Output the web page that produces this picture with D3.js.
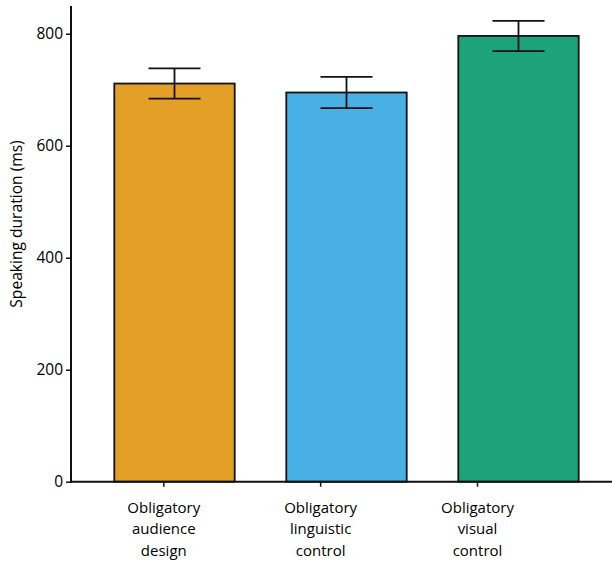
<!DOCTYPE html>
<html>
<head>
<meta charset="utf-8">
<script src="https://cdn.jsdelivr.net/npm/d3@7"></script>
<style>
  html, body { margin: 0; padding: 0; background: #fff; }
  svg { display: block; }
  text { font-family: "Open Sans", "Noto Sans", sans-serif; fill: #000; }
</style>
</head>
<body>
<svg id="chart" width="612" height="563"></svg>
<script>
// Conditions, mean speaking duration (ms) and standard error
const categories = ["Obligatory audience design", "Obligatory linguistic control", "Obligatory visual control"];
const labelLines = [["Obligatory", "audience", "design"], ["Obligatory", "linguistic", "control"], ["Obligatory", "visual", "control"]];
const means = [711, 695, 796];
const errors = [27, 28, 27];
const colors = ["#E39F26", "#48B0E4", "#1DA37A"];
const yTicks = [0, 200, 400, 600, 800];

const svg = d3.select("#chart");

const y = d3.scaleLinear().domain([0, 800]).range([481.7, 33.7]);

// Bars and condition labels sit on separate band positions
const xBar = d3.scaleBand().domain(categories).range([62.7, 630.3]).padding(0.3);
const xLab = d3.scalePoint().domain(categories).range([163.3, 477]);

const data = categories.map((c, i) => ({ c, m: means[i], e: errors[i], col: colors[i] }));

// Bars
svg.append("g").selectAll("rect").data(data).join("rect")
  .attr("x", d => xBar(d.c))
  .attr("y", d => y(d.m))
  .attr("width", xBar.bandwidth())
  .attr("height", d => y(0) - y(d.m))
  .attr("fill", d => d.col)
  .attr("stroke", "#111")
  .attr("stroke-width", 1.8);

// Error bars
const eb = svg.append("g").attr("stroke", "#111").attr("stroke-width", 1.8).attr("fill", "none");
const capHalf = 26;
data.forEach(d => {
  const cx = xBar(d.c) + xBar.bandwidth() / 2;
  eb.append("line").attr("x1", cx).attr("x2", cx).attr("y1", y(d.m + d.e)).attr("y2", y(d.m - d.e));
  eb.append("line").attr("x1", cx - capHalf).attr("x2", cx + capHalf).attr("y1", y(d.m + d.e)).attr("y2", y(d.m + d.e));
  eb.append("line").attr("x1", cx - capHalf).attr("x2", cx + capHalf).attr("y1", y(d.m - d.e)).attr("y2", y(d.m - d.e));
});

// Y axis
const yAxis = svg.append("g").attr("transform", "translate(71,0)")
  .call(d3.axisLeft(y).tickValues(yTicks).tickSize(5).tickPadding(3).tickFormat(d3.format("d")));
yAxis.select(".domain").remove();
yAxis.selectAll(".tick line").attr("stroke", "#111").attr("stroke-width", 1.5);
yAxis.selectAll(".tick text").attr("font-size", 15.5).attr("fill", "#000")
  .style("font-family", '"Open Sans", sans-serif');
svg.append("line").attr("x1", 71).attr("x2", 71).attr("y1", 6).attr("y2", y(0) + 1)
  .attr("stroke", "#111").attr("stroke-width", 2);

// X axis
const xAxis = svg.append("g").attr("transform", `translate(0,${y(0)})`)
  .call(d3.axisBottom(xLab).tickSize(5).tickFormat(""));
xAxis.select(".domain").remove();
xAxis.selectAll(".tick line").attr("stroke", "#111").attr("stroke-width", 1.5);
svg.append("line").attr("x1", 70).attr("x2", 612).attr("y1", y(0)).attr("y2", y(0))
  .attr("stroke", "#111").attr("stroke-width", 2);

// Multi-line condition labels
xAxis.selectAll(".tick").each(function(d, i) {
  const t = d3.select(this).append("text")
    .attr("text-anchor", "middle")
    .attr("font-size", 15)
    .attr("fill", "#000")
    .style("font-family", '"Open Sans", sans-serif');
  labelLines[i].forEach((ln, k) => {
    t.append("tspan").attr("x", 0).attr("y", 31 + k * 21.5).text(ln);
  });
});

// Y axis title
svg.append("text")
  .attr("transform", "translate(22,224) rotate(-90)")
  .attr("text-anchor", "middle")
  .attr("font-size", 15.6)
  .text("Speaking duration (ms)");
</script>
</body>
</html>
